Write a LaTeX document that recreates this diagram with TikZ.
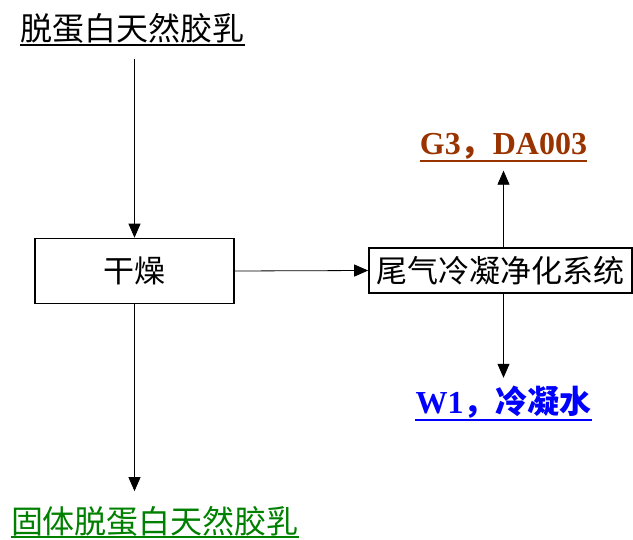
\documentclass[tikz,border=0pt]{standalone}
\usepackage{fontspec}
\setmainfont{Liberation Serif}
\newfontfamily\cjk{Noto Sans CJK SC}
\usetikzlibrary{arrows.meta}
\definecolor{gasbrown}{RGB}{153,51,0}
\definecolor{waterblue}{RGB}{0,0,255}
\definecolor{solidgreen}{RGB}{0,128,0}
\begin{document}
\begin{tikzpicture}[x=1pt,y=-1pt,
    font=\fontsize{31}{36}\selectfont\cjk,
    unit/.style={draw,line width=1.6pt,inner sep=0pt},
    ulabel/.style={anchor=base,inner xsep=0pt,inner ysep=0.5pt},
    uline/.style={line width=1.8pt},
    flow/.style={-{Triangle[length=14pt,width=12pt]},line width=0.8pt}]
  \useasboundingbox (0,0) rectangle (633,540);
  \draw
    (132.5,41) node[ulabel,font=\fontsize{32}{36}\selectfont\cjk] (latex){脱蛋白天然胶乳}
    (134.5,271) node[unit,minimum width=199pt,minimum height=65pt] (dry){干燥}
    (503.5,155) node[ulabel,text=gasbrown,font=\fontsize{32}{36}\selectfont\rmfamily\bfseries] (gas){G3{\cjk ，}DA003}
    (500.5,270.5) node[unit,minimum width=263pt,minimum height=45pt] (tail){尾气冷凝净化系统}
    (503.5,414) node[ulabel,text=waterblue,font=\fontsize{32}{36}\selectfont\rmfamily\bfseries] (water){W1{\cjk ，冷凝水}}
    (155,533) node[ulabel,text=solidgreen,font=\fontsize{32}{36}\selectfont\cjk] (solid){固体脱蛋白天然胶乳};
  % underlines
  \draw[uline] (latex.south west) -- (latex.south east);
  \draw[uline,gasbrown] (gas.south west) -- (gas.south east);
  \draw[uline,waterblue] (water.south west) -- (water.south east);
  \draw[uline,solidgreen] (solid.south west) -- (solid.south east);
  \begin{scope}[flow]
    \draw[shorten <=14pt] (latex.south -| dry.north) to (dry.north);
    \draw (dry.east) to (tail.west);
    \draw[shorten >=10pt] (tail.north -| gas.south) to (gas.south);
    \draw[shorten >=8pt] (tail.south -| water.north) to (water.north);
    \draw[shorten >=14pt] (dry.south) to (solid.north -| dry.south);
  \end{scope}
\end{tikzpicture}
\end{document}
